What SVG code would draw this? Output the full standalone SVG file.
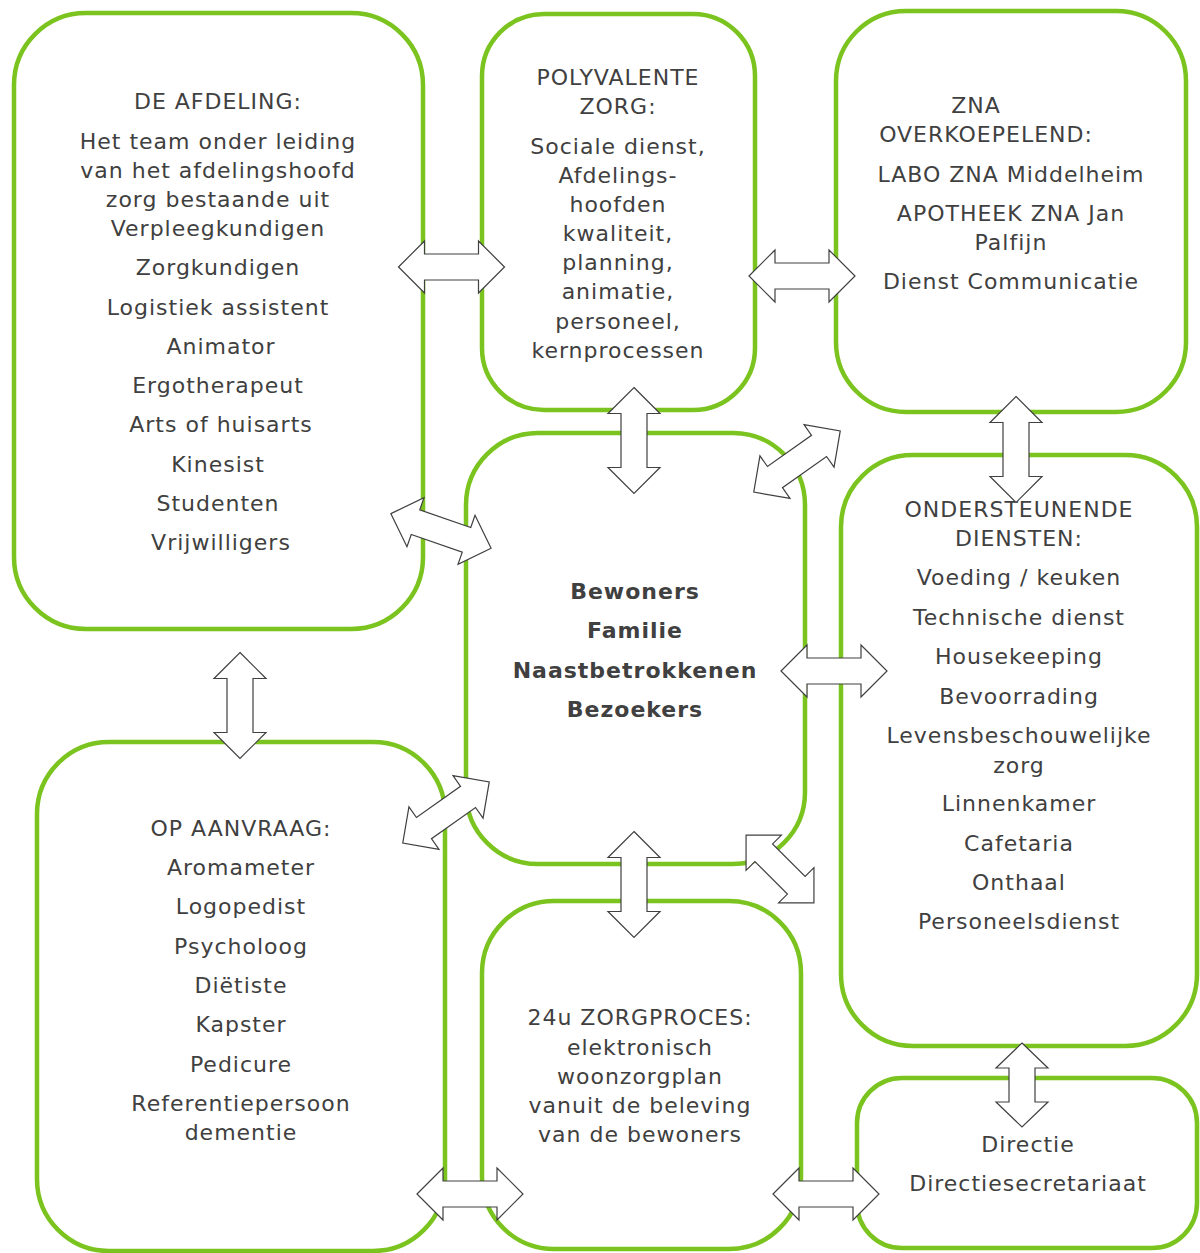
<svg xmlns="http://www.w3.org/2000/svg" width="1200" height="1253" viewBox="0 0 1200 1253">
<style>
.box{fill:#fff;stroke:#7bc41f;stroke-width:4.5}
.arr{fill:#fff;stroke:#404040;stroke-width:1.2;stroke-linejoin:miter}
text{font-family:"DejaVu Sans",Verdana,sans-serif;font-size:22px;letter-spacing:1px;fill:#404040;text-anchor:middle}
.b{font-weight:bold}
</style>
<defs>
<path id="d106" d="M-53,0 L-27,-26 L-27,-13 L27,-13 L27,-26 L53,0 L27,26 L27,13 L-27,13 L-27,26 Z"/>
<path id="d96" d="M-48,0 L-23,-25 L-23,-12.5 L23,-12.5 L23,-25 L48,0 L23,25 L23,12.5 L-23,12.5 L-23,25 Z"/>
<path id="d85" d="M-42,0 L-17,-26 L-17,-13 L17,-13 L17,-26 L42,0 L17,26 L17,13 L-17,13 L-17,26 Z"/>
</defs>
<rect width="1200" height="1253" fill="#fff"/>
<g id="afdeling">
<rect class="box" x="14" y="13" width="409" height="616" rx="72"/>
<text x="218" y="109">DE AFDELING:</text>
<text x="218" y="149">Het team onder leiding</text>
<text x="218" y="178">van het afdelingshoofd</text>
<text x="218" y="207">zorg bestaande uit</text>
<text x="218" y="236">Verpleegkundigen</text>
<text x="218" y="275">Zorgkundigen</text>
<text x="218" y="315">Logistiek assistent</text>
<text x="221" y="354">Animator</text>
<text x="218" y="393">Ergotherapeut</text>
<text x="221" y="432">Arts of huisarts</text>
<text x="218" y="472">Kinesist</text>
<text x="218" y="511">Studenten</text>
<text x="221" y="550">Vrijwilligers</text>
</g>
<g id="polyvalente">
<rect class="box" x="482" y="14" width="273" height="396" rx="62"/>
<text x="618" y="85">POLYVALENTE</text>
<text x="618" y="114">ZORG:</text>
<text x="618" y="154">Sociale dienst,</text>
<text x="618" y="183">Afdelings-</text>
<text x="618" y="212">hoofden</text>
<text x="618" y="241">kwaliteit,</text>
<text x="618" y="270">planning,</text>
<text x="618" y="299">animatie,</text>
<text x="618" y="329">personeel,</text>
<text x="618" y="358">kernprocessen</text>
</g>
<g id="zna">
<rect class="box" x="836" y="11" width="350" height="401" rx="70"/>
<text x="976" y="113">ZNA</text>
<text x="986" y="142">OVERKOEPELEND:</text>
<text x="1011" y="182">LABO ZNA Middelheim</text>
<text x="1011" y="221">APOTHEEK ZNA Jan</text>
<text x="1011" y="250">Palfijn</text>
<text x="1011" y="289">Dienst Communicatie</text>
</g>
<g id="bewoners">
<rect class="box" x="466" y="433" width="339" height="431" rx="72"/>
<text class="b" x="635" y="599">Bewoners</text>
<text class="b" x="635" y="638">Familie</text>
<text class="b" x="635" y="678">Naastbetrokkenen</text>
<text class="b" x="635" y="717">Bezoekers</text>
</g>
<g id="ondersteunende">
<rect class="box" x="841" y="455" width="356" height="591" rx="72"/>
<text x="1019" y="517">ONDERSTEUNENDE</text>
<text x="1019" y="546">DIENSTEN:</text>
<text x="1019" y="585">Voeding / keuken</text>
<text x="1019" y="625">Technische dienst</text>
<text x="1019" y="664">Housekeeping</text>
<text x="1019" y="704">Bevoorrading</text>
<text x="1019" y="743">Levensbeschouwelijke</text>
<text x="1019" y="773">zorg</text>
<text x="1019" y="811">Linnenkamer</text>
<text x="1019" y="851">Cafetaria</text>
<text x="1019" y="890">Onthaal</text>
<text x="1019" y="929">Personeelsdienst</text>
</g>
<g id="opaanvraag">
<rect class="box" x="37" y="742" width="408" height="509" rx="72"/>
<text x="241" y="836">OP AANVRAAG:</text>
<text x="241" y="875">Aromameter</text>
<text x="241" y="914">Logopedist</text>
<text x="241" y="954">Psycholoog</text>
<text x="241" y="993">Diëtiste</text>
<text x="241" y="1032">Kapster</text>
<text x="241" y="1072">Pedicure</text>
<text x="241" y="1111">Referentiepersoon</text>
<text x="241" y="1140">dementie</text>
</g>
<g id="zorgproces">
<rect class="box" x="482" y="901" width="319" height="348" rx="72"/>
<text x="640" y="1025">24u ZORGPROCES:</text>
<text x="640" y="1055">elektronisch</text>
<text x="640" y="1084">woonzorgplan</text>
<text x="640" y="1113">vanuit de beleving</text>
<text x="640" y="1142">van de bewoners</text>
</g>
<g id="directie">
<rect class="box" x="857" y="1078" width="340" height="170" rx="45"/>
<text x="1028" y="1152">Directie</text>
<text x="1028" y="1191">Directiesecretariaat</text>
</g>
<g id="connectors" class="arr">
<use href="#d106" transform="translate(451.5,267)"/>
<use href="#d106" transform="translate(802,276)"/>
<use href="#d106" transform="translate(634,440.5) rotate(90)"/>
<use href="#d106" transform="translate(797,461.5) rotate(-35.3)"/>
<use href="#d106" transform="translate(441,531) rotate(19.1)"/>
<use href="#d106" transform="translate(446,812.5) rotate(-35.3)"/>
<use href="#d96" transform="translate(780,869) rotate(45)"/>
<use href="#d106" transform="translate(634,884.5) rotate(90)"/>
<use href="#d106" transform="translate(834,671)"/>
<use href="#d106" transform="translate(1016,449.5) rotate(90)"/>
<use href="#d106" transform="translate(240,705.5) rotate(90)"/>
<use href="#d106" transform="translate(470,1194)"/>
<use href="#d106" transform="translate(826,1194)"/>
<use href="#d85" transform="translate(1022,1085) rotate(90)"/>
</g>
</svg>
